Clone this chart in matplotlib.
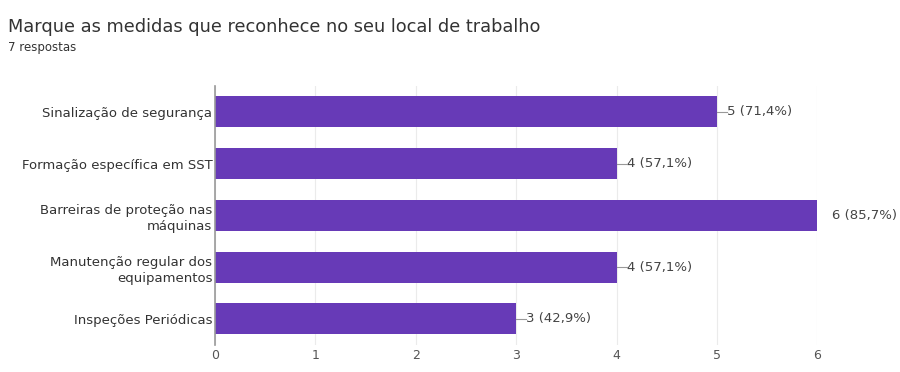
import matplotlib
matplotlib.use("Agg")
import matplotlib.pyplot as plt

# Data
categories = [
    "Sinalização de segurança",
    "Formação específica em SST",
    "Barreiras de proteção nas\nmáquinas",
    "Manutenção regular dos\nequipamentos",
    "Inspeções Periódicas",
]
counts = [5, 4, 6, 4, 3]
percent_labels = ["71,4%", "57,1%", "85,7%", "57,1%", "42,9%"]
x_ticks = [0, 1, 2, 3, 4, 5, 6]

BAR_COLOR = "#673AB7"
FONT = "DejaVu Sans"

fig = plt.figure(figsize=(9, 3.72), dpi=100)
ax = fig.add_axes([0.239, 0.073, 0.669, 0.696])

y = list(range(len(categories)))
ax.barh(y, counts, height=0.6, color=BAR_COLOR, zorder=3)

ax.set_ylim(len(categories) - 0.5, -0.5)
ax.set_xlim(0, 6)
ax.set_xticks(x_ticks)
ax.set_xticklabels([str(t) for t in x_ticks], fontsize=9, color="#555555",
                   family=FONT)
ax.set_yticks(y)
ax.set_yticklabels(categories, fontsize=9.5, color="#333333",
                   family=FONT, linespacing=1.3)
ax.tick_params(axis="x", length=0, pad=3)
ax.tick_params(axis="y", length=0, pad=2)

ax.grid(axis="x", color="#ebebeb", linewidth=0.8, zorder=0)
for s in ["top", "right", "bottom"]:
    ax.spines[s].set_visible(False)
ax.spines["left"].set_color("#999999")
ax.spines["left"].set_linewidth(1.2)
ax.spines["left"].set_zorder(4)

# value labels with short leader lines
for yi, c, p in zip(y, counts, percent_labels):
    txt = f"{c} ({p})"
    if c < 6:
        ax.plot([c, c + 0.1], [yi, yi], color="#999999", linewidth=0.8,
                zorder=4, clip_on=False)
        ax.text(c + 0.1, yi, txt, va="center", ha="left", fontsize=9.5,
                color="#444444", family=FONT)
    else:
        ax.text(c + 0.15, yi, txt, va="center", ha="left", fontsize=9.5,
                color="#444444", family=FONT)

fig.text(0.009, 0.928, "Marque as medidas que reconhece no seu local de trabalho",
         fontsize=12.8, color="#333333", family=FONT, va="center")
fig.text(0.009, 0.873, "7 respostas", fontsize=8.5, color="#333333",
         family=FONT, va="center")

fig.savefig("out.png", dpi=100)
